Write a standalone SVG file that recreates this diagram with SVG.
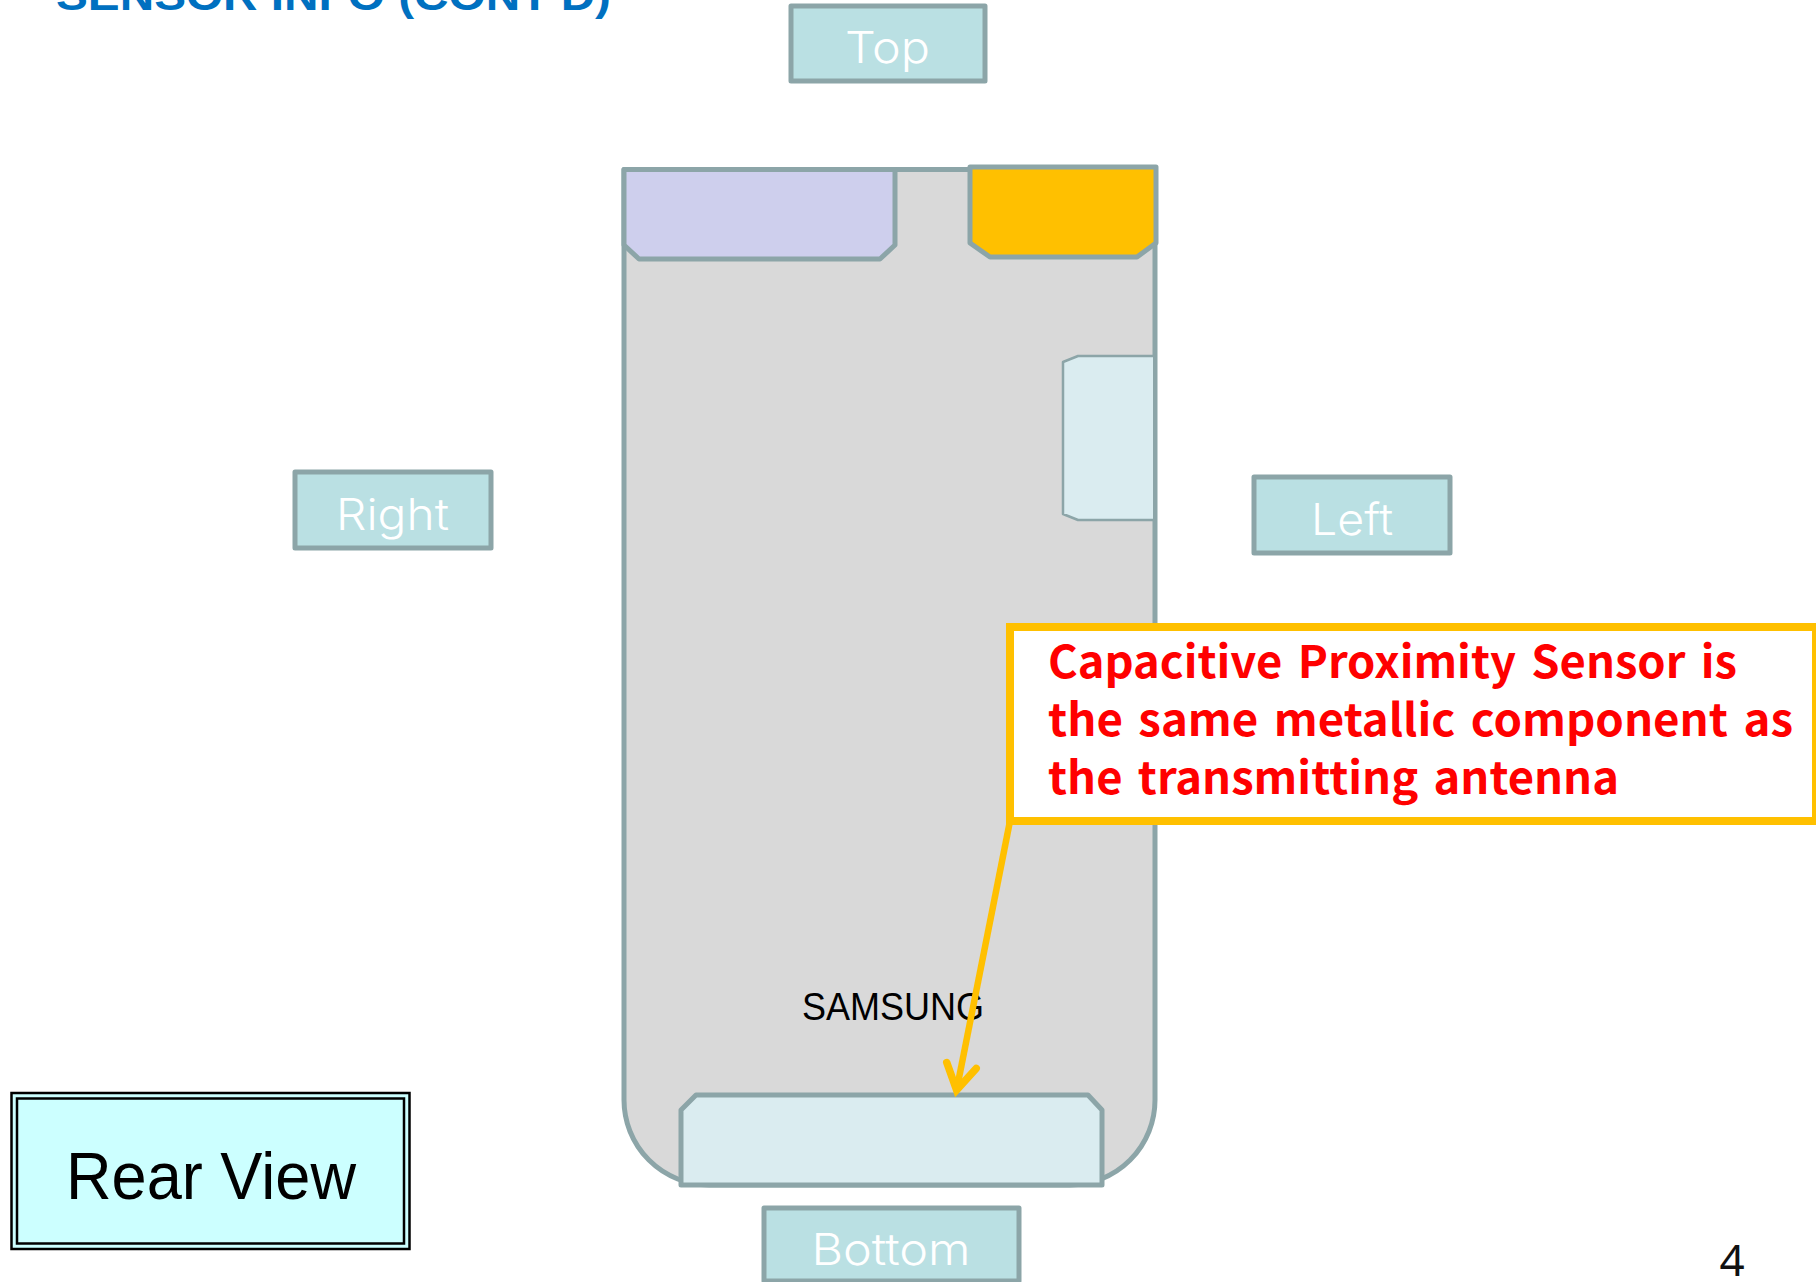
<svg xmlns="http://www.w3.org/2000/svg" width="1816" height="1282" viewBox="0 0 1816 1282">
<style>
.part{stroke:#8CA5A8;stroke-linejoin:round}
.tag rect{fill:#BAE0E3;stroke:#8CA5A8;stroke-width:5;stroke-linejoin:round}
.tag text{fill:#fff;font-family:"Inter","Noto Sans",sans-serif;font-weight:300;font-size:44px;text-anchor:middle}
.note{fill:#f00;font-family:"Noto Sans CJK KR","Noto Sans",sans-serif;font-weight:700;font-size:45px;word-spacing:5px}
</style>
<defs>
<marker id="openArrow" markerUnits="userSpaceOnUse" orient="auto" markerWidth="70" markerHeight="70" refX="0" refY="0" overflow="visible">
<path d="M-25,-15 L0,0 L-25,15" fill="none" stroke="#FFC000" stroke-width="7.5" stroke-linecap="round" stroke-linejoin="miter" stroke-miterlimit="10"/>
</marker>
</defs>
<rect width="1816" height="1282" fill="#fff"/>
<text id="title" x="56" y="10" font-family="Liberation Sans, sans-serif" font-weight="700" font-size="42" fill="#0070C0" textLength="555" lengthAdjust="spacingAndGlyphs">SENSOR INFO (CONT'D)</text>
<g id="body"><path class="part" d="M624,169.5 H1155 V1100 A85,85 0 0 1 1070,1185 H709 A85,85 0 0 1 624,1100 Z" fill="#D9D9D9" stroke-width="5"/></g>
<g id="top-left-part"><path class="part" d="M624,169.5 H895 V245 L880,259 H639 L624,245 Z" fill="#CECFED" stroke-width="5"/></g>
<g id="top-right-part"><path class="part" d="M970,167 H1156 V243 L1137,257 H990 L970,243 Z" fill="#FFC000" stroke-width="5"/></g>
<g id="side-part"><path d="M1153,356 H1078 L1063,362 V514 L1078,520 H1153 Z" fill="#DAECF0"/><path class="part" d="M1153,356 H1078 L1063,362 V514 L1078,520 H1153" fill="none" stroke-width="2.5"/></g>
<g id="bottom-part"><path class="part" d="M681,1185 V1110 L696,1095 H1088 L1102,1110 V1185 Z" fill="#DAECF0" stroke-width="5"/></g>
<text id="samsung" x="802" y="1020" font-family="Liberation Sans, sans-serif" font-size="38" fill="#000" textLength="182" lengthAdjust="spacingAndGlyphs">SAMSUNG</text>
<g id="tag-top" class="tag"><rect x="791" y="6" width="194" height="75"/><text x="887.5" y="63" textLength="85" lengthAdjust="spacingAndGlyphs">Top</text></g>
<g id="tag-right" class="tag"><rect x="295" y="472" width="196" height="76"/><text x="392.5" y="530" textLength="113" lengthAdjust="spacingAndGlyphs">Right</text></g>
<g id="tag-left" class="tag"><rect x="1254" y="477" width="196" height="76"/><text x="1352" y="535" textLength="82" lengthAdjust="spacingAndGlyphs">Left</text></g>
<g id="tag-bottom" class="tag"><rect x="764" y="1208" width="255" height="73"/><text x="891" y="1265" textLength="159" lengthAdjust="spacingAndGlyphs">Bottom</text></g>
<g id="callout"><rect x="1010" y="627" width="806" height="194" fill="#fff" stroke="#FFC000" stroke-width="8"/>
<text class="note" x="1048" y="678" textLength="689" lengthAdjust="spacingAndGlyphs">Capacitive Proximity Sensor is</text>
<text class="note" x="1048" y="736" textLength="745" lengthAdjust="spacingAndGlyphs">the same metallic component as</text>
<text class="note" x="1048" y="794" textLength="571" lengthAdjust="spacingAndGlyphs">the transmitting antenna</text></g>
<g id="rear-view"><rect x="11.5" y="1093" width="398" height="156" fill="#CCFFFF" stroke="#000" stroke-width="2.5"/><rect x="17" y="1098.5" width="387" height="145" fill="#CCFFFF" stroke="#000" stroke-width="2.5"/>
<text x="211" y="1199" font-family="Liberation Sans, sans-serif" font-size="67" fill="#000" text-anchor="middle" textLength="290" lengthAdjust="spacingAndGlyphs">Rear View</text></g>
<text id="page-number" x="1732" y="1276" font-family="Noto Sans, sans-serif" font-size="44" fill="#111" text-anchor="middle">4</text>
<g id="connectors"><line x1="1010" y1="821" x2="956.6" y2="1090" stroke="#FFC000" stroke-width="6.5" marker-end="url(#openArrow)"/></g>
</svg>
